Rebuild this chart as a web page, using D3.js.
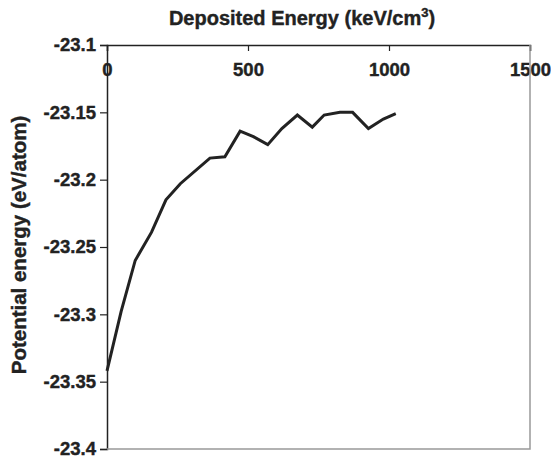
<!DOCTYPE html>
<html>
<head>
<meta charset="utf-8">
<script src="https://d3js.org/d3.v7.min.js"></script>
<style>
  body { margin: 0; background: #fff; }
</style>
</head>
<body>
<svg id="chart"></svg>
<script>
// deposited energy (keV/cm3) and potential energy (eV/atom)
const energy = [0, 50, 100, 158, 209, 260, 365, 418, 472, 519, 570, 620, 675, 728, 770, 826, 871, 927, 980, 1024];
const potential = [-23.342, -23.298, -23.260, -23.239, -23.215, -23.203, -23.184, -23.183, -23.164, -23.168,
                   -23.174, -23.162, -23.152, -23.161, -23.152, -23.150, -23.150, -23.162, -23.155, -23.151];
const xTicks = [0, 500, 1000, 1500];
const yTicks = [-23.1, -23.15, -23.2, -23.25, -23.3, -23.35, -23.4];

const width = 551, height = 460;
const margin = {top: 45, right: 21, bottom: 11, left: 107};
const font = '"Liberation Sans", Arial, Helvetica, sans-serif';

const svg = d3.select('#chart').attr('width', width).attr('height', height);

const x = d3.scaleLinear().domain([0, 1500]).range([margin.left, width - margin.right]);
const y = d3.scaleLinear().domain([-23.1, -23.4]).range([margin.top, height - margin.bottom]);

const xAxis = svg.append('g')
    .attr('transform', `translate(0,${margin.top})`)
    .call(d3.axisBottom(x).tickValues(xTicks).tickFormat(d3.format('d')).tickSize(6).tickPadding(12));

const yAxis = svg.append('g')
    .attr('transform', `translate(${margin.left},0)`)
    .call(d3.axisLeft(y).tickValues(yTicks).tickFormat(d => d).tickSize(7).tickPadding(4));

[xAxis, yAxis].forEach(g => {
    g.attr('font-family', font).attr('font-size', 18.5).attr('font-weight', 'bold');
    g.select('.domain').attr('stroke', '#222').attr('stroke-width', 1.5);
    g.selectAll('.tick line').attr('stroke', '#222').attr('stroke-width', 1.2);
    g.selectAll('.tick text').attr('fill', '#222').attr('stroke', '#222').attr('stroke-width', 0.4);
});

// grey frame on right and bottom, drawn over the 1500 label
svg.append('path')
    .attr('d', `M${x(0)},${y(-23.4)}H${x(1500)}V${y(-23.1)}`)
    .attr('fill', 'none')
    .attr('stroke', '#999')
    .attr('stroke-width', 1.5);

const line = d3.line().x((d, i) => x(energy[i])).y(d => y(d));
svg.append('path')
    .datum(potential)
    .attr('d', line)
    .attr('fill', 'none')
    .attr('stroke', '#222')
    .attr('stroke-width', 3);

const title = svg.append('text')
    .attr('x', 302).attr('y', 25)
    .attr('text-anchor', 'middle')
    .attr('font-family', font).attr('font-weight', 'bold')
    .attr('font-size', 20).attr('fill', '#222')
    .attr('stroke', '#222').attr('stroke-width', 0.4);
title.append('tspan').text('Deposited Energy (keV/cm');
title.append('tspan').attr('font-size', 13).attr('dy', -8).text('3');
title.append('tspan').attr('dy', 8).text(')');

svg.append('text')
    .attr('transform', 'translate(26,245) rotate(-90)')
    .attr('text-anchor', 'middle')
    .attr('font-family', font).attr('font-weight', 'bold')
    .attr('font-size', 20.5).attr('fill', '#222')
    .attr('stroke', '#222').attr('stroke-width', 0.4)
    .text('Potential energy (eV/atom)');
</script>
</body>
</html>
